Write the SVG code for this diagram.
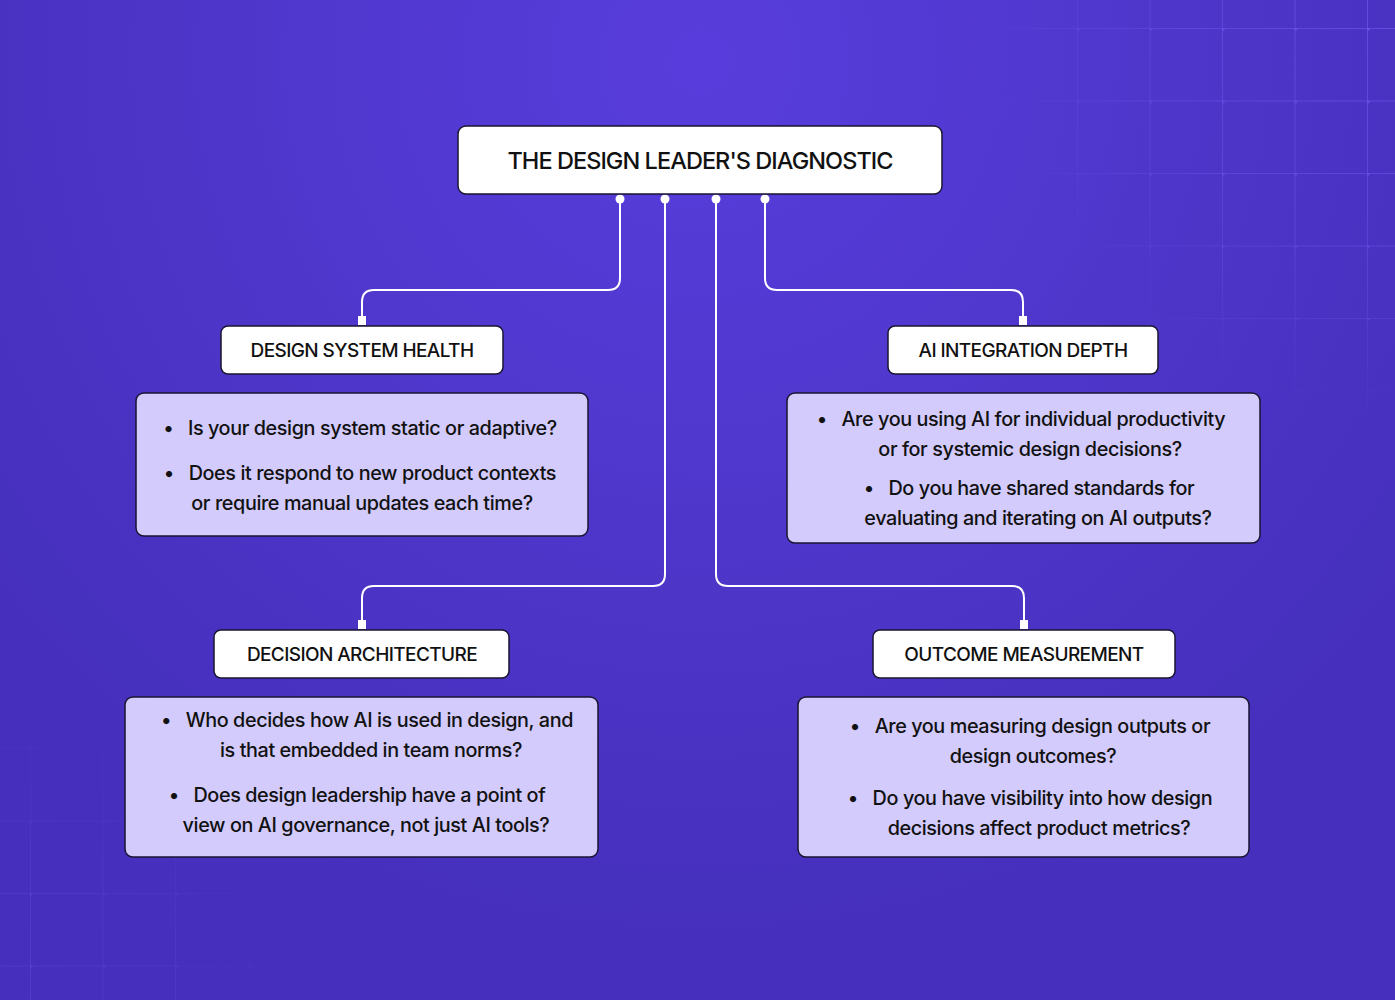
<svg xmlns="http://www.w3.org/2000/svg" width="1395" height="1000" viewBox="0 0 1395 1000">
<defs>
<radialGradient id="bg" cx="700" cy="60" r="900" gradientUnits="userSpaceOnUse">
<stop offset="0" stop-color="#583ddc"/>
<stop offset="0.6" stop-color="#4d35c8"/>
<stop offset="1" stop-color="#452fbc"/>
</radialGradient>
<pattern id="gridTR" x="1222" y="28" width="72.5" height="72.5" patternUnits="userSpaceOnUse">
<path d="M0 0 H72.5 M0 0 V72.5" stroke="#6b55ea" stroke-width="1.5" fill="none"/>
<circle cx="0" cy="0" r="3" fill="#6b55ea"/>
</pattern>
<pattern id="gridBL" x="30" y="893" width="72.5" height="72.5" patternUnits="userSpaceOnUse">
<path d="M0 0 H72.5 M0 0 V72.5" stroke="#6049dc" stroke-width="1.5" fill="none"/>
<circle cx="0" cy="0" r="3" fill="#6049dc"/>
</pattern>
<radialGradient id="fadeTR" cx="1395" cy="0" r="430" gradientUnits="userSpaceOnUse">
<stop offset="0" stop-color="#fff" stop-opacity="1"/>
<stop offset="0.6" stop-color="#fff" stop-opacity="0.6"/>
<stop offset="1" stop-color="#fff" stop-opacity="0"/>
</radialGradient>
<radialGradient id="fadeBL" cx="0" cy="1000" r="330" gradientUnits="userSpaceOnUse">
<stop offset="0" stop-color="#fff" stop-opacity="0.7"/>
<stop offset="1" stop-color="#fff" stop-opacity="0"/>
</radialGradient>
<mask id="mTR"><rect width="1395" height="1000" fill="url(#fadeTR)"/></mask>
<mask id="mBL"><rect width="1395" height="1000" fill="url(#fadeBL)"/></mask>
<style>
.title{fill:#ffffff;stroke:#1a1530;stroke-width:1.5}
.head{fill:#ffffff;stroke:#1a1530;stroke-width:1.5}
.body{fill:#d3cbfc;stroke:#1a1530;stroke-width:1.5}
text{font-family:Inter,"Noto Sans","Liberation Sans",sans-serif;fill:#111111;text-anchor:middle}
.tt{font-size:23.5px;font-weight:500;letter-spacing:-0.95px}
.ht{font-size:19px;font-weight:500;letter-spacing:-0.6px}
.bt{font-size:19.8px;font-weight:500;letter-spacing:-0.4px}
.conn{fill:none;stroke:#ffffff;stroke-width:2}
.dot{fill:#ffffff}
</style>
</defs>
<rect width="1395" height="1000" fill="url(#bg)"/>
<rect width="1395" height="1000" fill="url(#gridTR)" mask="url(#mTR)"/>
<rect width="1395" height="1000" fill="url(#gridBL)" mask="url(#mBL)"/>

<g id="connectors">
<path class="conn" d="M620 199 V278 Q620 290 608 290 H374 Q362 290 362 302 V320"/>
<path class="conn" d="M665 199 V574 Q665 586 653 586 H374 Q362 586 362 598 V624"/>
<path class="conn" d="M716 199 V574 Q716 586 728 586 H1012 Q1024 586 1024 598 V624"/>
<path class="conn" d="M765 199 V278 Q765 290 777 290 H1011 Q1023 290 1023 302 V320"/>
<circle class="dot" cx="620" cy="199" r="4.5"/>
<circle class="dot" cx="665" cy="199" r="4.5"/>
<circle class="dot" cx="716" cy="199" r="4.5"/>
<circle class="dot" cx="765" cy="199" r="4.5"/>
<rect class="dot" x="358" y="316" width="8" height="9"/>
<rect class="dot" x="1019" y="316" width="8" height="9"/>
<rect class="dot" x="358" y="620" width="8" height="9"/>
<rect class="dot" x="1020" y="620" width="8" height="9"/>
</g>

<g id="title">
<rect class="title" x="458" y="126" width="484" height="68" rx="8"/>
<text class="tt" x="700" y="169">THE DESIGN LEADER'S DIAGNOSTIC</text>
</g>

<g id="design-system-health">
<rect class="head" x="221" y="326" width="282" height="48" rx="7"/>
<text class="ht" x="362" y="357">DESIGN SYSTEM HEALTH</text>
<rect class="body" x="136" y="393" width="452" height="143" rx="8"/>
<text class="bt" x="360" y="435">•&#160;&#160; Is your design system static or adaptive?</text>
<text class="bt" x="360" y="480">•&#160;&#160; Does it respond to new product contexts</text>
<text class="bt" x="362" y="510">or require manual updates each time?</text>
</g>

<g id="ai-integration-depth">
<rect class="head" x="888" y="326" width="270" height="48" rx="7"/>
<text class="ht" x="1023" y="357">AI INTEGRATION DEPTH</text>
<rect class="body" x="787" y="393" width="473" height="150" rx="8"/>
<text class="bt" x="1021" y="426">•&#160;&#160; Are you using AI for individual productivity</text>
<text class="bt" x="1030" y="456">or for systemic design decisions?</text>
<text class="bt" x="1029" y="495">•&#160;&#160; Do you have shared standards for</text>
<text class="bt" x="1038" y="525">evaluating and iterating on AI outputs?</text>
</g>

<g id="decision-architecture">
<rect class="head" x="214" y="630" width="295" height="48" rx="7"/>
<text class="ht" x="362" y="661">DECISION ARCHITECTURE</text>
<rect class="body" x="125" y="697" width="473" height="160" rx="8"/>
<text class="bt" x="367" y="727">•&#160;&#160; Who decides how AI is used in design, and</text>
<text class="bt" x="371" y="757">is that embedded in team norms?</text>
<text class="bt" x="357" y="802">•&#160;&#160; Does design leadership have a point of</text>
<text class="bt" x="366" y="832">view on AI governance, not just AI tools?</text>
</g>

<g id="outcome-measurement">
<rect class="head" x="873" y="630" width="302" height="48" rx="7"/>
<text class="ht" x="1024" y="661">OUTCOME MEASUREMENT</text>
<rect class="body" x="798" y="697" width="451" height="160" rx="8"/>
<text class="bt" x="1030" y="733">•&#160;&#160; Are you measuring design outputs or</text>
<text class="bt" x="1033" y="763">design outcomes?</text>
<text class="bt" x="1030" y="805">•&#160;&#160; Do you have visibility into how design</text>
<text class="bt" x="1039" y="835">decisions affect product metrics?</text>
</g>
</svg>
